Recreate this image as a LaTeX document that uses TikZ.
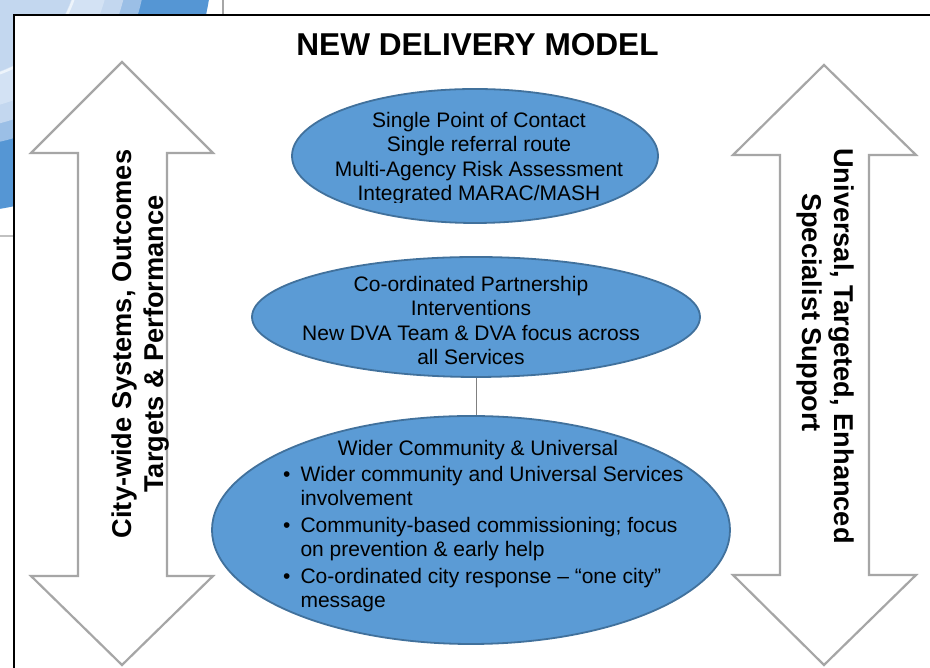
\documentclass[tikz,border=0pt]{standalone}
\usepackage{fontspec}
\setmainfont{Liberation Sans}
\usetikzlibrary{shapes.geometric}
\definecolor{ellfill}{HTML}{5B9BD5}
\definecolor{elldraw}{HTML}{41719C}
\definecolor{arrgray}{HTML}{A6A6A6}
\definecolor{swdark}{HTML}{5596D4}
\definecolor{swmed}{HTML}{9BBFE6}
\definecolor{swlight}{HTML}{C3D7EF}
\definecolor{swpale}{HTML}{D3E2F4}
\definecolor{conngray}{HTML}{808080}
\newcommand{\topstrutx}{\rule{0pt}{16pt}}
\newcommand{\botstrutx}{\rule[-5pt]{0pt}{5pt}}
\begin{document}
\begin{tikzpicture}[x=1pt,y=1pt,
  ellbox/.style={ellipse, draw=elldraw, fill=ellfill, line width=1.8pt, inner sep=0pt},
  etext/.style={align=center, inner sep=0pt, font=\fontsize{21}{24.5}\selectfont},
  bigarrow/.style={draw=arrgray, line width=2.2pt, fill=white, line join=miter},
  arrtext/.style={inner sep=0pt, font=\bfseries\fontsize{27.2}{32}\selectfont},
  connline/.style={draw=conngray, line width=1pt}]
\useasboundingbox (0,0) rectangle (930,668);
% background page decoration
\begin{scope}
  \clip (0,0) rectangle (930,668);
  \fill[swdark] (-40,708) circle (252);
  \fill[swmed] (-40,708) circle (186);
  \fill[swlight] (-40,708) circle (168);
  \fill[swpale] (-40,708) circle (150);
  \draw[white!60!swpale, line width=2.5pt] (-40,708) circle (120);
  \fill[swlight] (-40,708) circle (118);
\end{scope}
\draw[arrgray, line width=1.5pt] (223,653) -- (223,668);
\draw[arrgray!70, line width=2pt] (0,432) -- (14,432);
% frame
\fill[white] (14,0) rectangle (930,653);
\draw[black, line width=1.5pt] (14,0) -- (14,653) -- (930,653);
% title
\node[inner sep=0pt, anchor=base, font=\bfseries\fontsize{31.6}{36}\selectfont] (title) at (477.5,612) {NEW DELIVERY MODEL};
% side arrows
\draw[bigarrow] (122,606) -- (213,515) -- (167,515) -- (167,92) -- (213,92) -- (122,3) -- (31,92) -- (78,92) -- (78,515) -- (31,515) -- cycle;
\draw[bigarrow] (824,603) -- (916,513) -- (869,513) -- (869,93) -- (916,93) -- (824,3) -- (733,93) -- (780,93) -- (780,513) -- (733,513) -- cycle;
\node[arrtext, align=center, rotate=90] (ltext) at (139.5,324) {\rule{0pt}{21pt}City-wide Systems, Outcomes\\Targets \& Performance\rule[-6pt]{0pt}{6pt}};
\node[arrtext, rotate=-90, anchor=base west] (rtext1) at (834,520) {Universal, Targeted, Enhanced};
\node[arrtext, rotate=-90, anchor=base west] (rtext2) at (802,475) {Specialist Support};
% ellipses
\node[ellbox, minimum width=366pt, minimum height=134pt] (e1) at (475,512) {};
\node[ellbox, minimum width=448pt, minimum height=120pt] (e2) at (476,351) {};
\node[ellbox, minimum width=518pt, minimum height=228pt] (e3) at (471,138) {};
\draw[connline] (e2.south) -- (e2.south |- e3.north);
\begin{scope}
  \clip (0,465) rectangle (930,668);
  \node[etext] (t1) at (479,509.25) {\topstrutx Single Point of Contact\\Single referral route\\Multi-Agency Risk Assessment\\Integrated MARAC/MASH\botstrutx};
\end{scope}
\node[etext] (t2) at (471,345.25) {\topstrutx Co-ordinated Partnership\\Interventions\\New DVA Team \& DVA focus across\\all Services\botstrutx};
\node[etext, anchor=base] (t3h) at (478,212.5) {Wider Community \& Universal};
\node[etext, anchor=base west] (t3l) at (283,186.5) {\fontsize{21}{24.5}\selectfont
\begin{tabular}[t]{@{}l@{\hspace{10pt}}l@{}}
\textbullet & Wider community and Universal Services\\
 & involvement\\[2pt]
\textbullet & Community-based commissioning; focus\\
 & on prevention \& early help\\[2pt]
\textbullet & Co-ordinated city response – “one city”\\
 & message
\end{tabular}};
\end{tikzpicture}
\end{document}
